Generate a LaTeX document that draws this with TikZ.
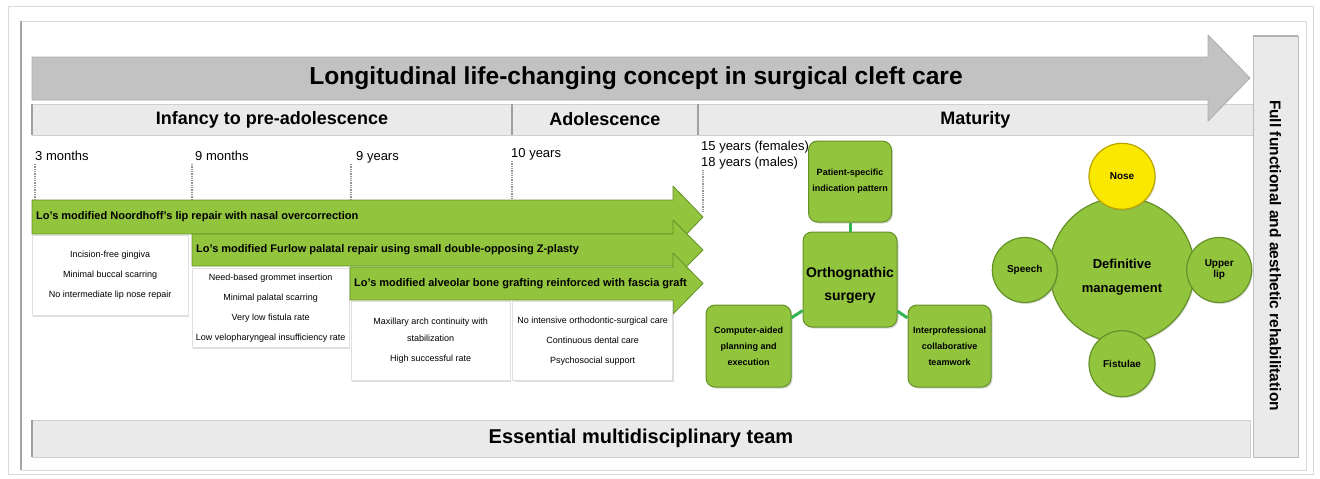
\documentclass[tikz,border=0pt]{standalone}
\usepackage{fontspec}
\setmainfont{Liberation Sans}
\usetikzlibrary{positioning, shadows, calc}

\definecolor{leaf}{RGB}{146,196,62}
\definecolor{leafdark}{RGB}{100,145,40}
\definecolor{linkgreen}{RGB}{50,180,80}
\definecolor{nosey}{RGB}{250,232,0}
\definecolor{nosedark}{RGB}{185,165,0}
\definecolor{bar}{RGB}{234,234,234}
\definecolor{barline}{RGB}{160,160,160}
\definecolor{bigarrow}{RGB}{194,194,194}

\begin{document}
\begin{tikzpicture}[x=1pt, y=-1pt, line join=round,
  phase/.style   ={fill=bar, draw=barline!50, inner sep=0pt, minimum height=31pt, font=\fontsize{18}{20}\selectfont\bfseries},
  sep/.style     ={draw=barline, line width=2pt},
  bigarr/.style  ={fill=bigarrow, draw=gray!65, line width=0.8pt},
  headline/.style={font=\fontsize{24.6}{28}\selectfont\bfseries},
  sidebar/.style ={fill=bar, draw=barline!70, inner sep=0pt, minimum width=421pt, minimum height=45pt, rotate=-90, font=\fontsize{15.5}{18}\selectfont\bfseries},
  teambar/.style ={fill=bar, draw=barline!50, inner sep=0pt, minimum width=1218pt, minimum height=37pt, font=\fontsize{20}{24}\selectfont\bfseries},
  age/.style     ={anchor=south west, inner sep=0pt, text depth=3pt, font=\fontsize{13}{16}\selectfont},
  agetick/.style ={densely dotted, draw=gray!85, line width=1.3pt},
  garrow/.style  ={fill=leaf, draw=leafdark, line width=0.8pt},
  armtext/.style ={anchor=west, inner xsep=4pt, inner ysep=0pt, minimum height=34pt, font=\fontsize{11}{13}\selectfont\bfseries},
  note/.style    ={fill=white, draw=gray!25, align=center, inner sep=2pt, font=\fontsize{9}{20}\selectfont,
                   drop shadow={opacity=0.25, shadow xshift=1pt, shadow yshift=-2pt}},
  leafbox/.style ={rounded corners=9pt, fill=leaf, draw=leafdark, line width=1pt, align=center, inner sep=2pt,
                   font=\fontsize{9}{16}\selectfont\bfseries, drop shadow={opacity=0.3, shadow xshift=1.5pt, shadow yshift=-1.5pt}},
  link/.style    ={draw=linkgreen, line width=3pt},
  disc/.style    ={circle, fill=leaf, draw=leafdark, line width=1.2pt, inner sep=0pt, align=center, minimum size=65pt,
                   font=\fontsize{10}{11}\selectfont\bfseries, drop shadow={opacity=0.25, shadow xshift=1pt, shadow yshift=-1.5pt}},
]
\useasboundingbox (0,0) rectangle (1320,479);

% ---------- frame ----------
\draw[gray!30, line width=1pt] (8,6) rectangle (1313,474);
\draw[gray!30] (21,21) rectangle (1306,470);
\draw[gray!70, line width=2pt] (21,21) -- (21,470);

% ---------- phases ----------
\node[phase, minimum width=480pt] (infancy) at (272,119.5) {Infancy to pre-adolescence};
\node[phase, minimum width=185pt, right=0pt of infancy] (adol) {Adolescence};
\node[phase, minimum width=555pt, right=0pt of adol] (maturity) {Maturity};
\foreach \p in {infancy,adol,maturity} \draw[sep] (\p.north west) -- (\p.south west);

% ---------- concept arrow ----------
\draw[bigarr] (32,57) -- (1208,57) -- (1208,35) -- (1250,78) -- (1208,121) -- (1208,100) -- (32,100) -- cycle;
\node[headline] (concept) at (636,78) {Longitudinal life-changing concept in surgical cleft care};

% ---------- side + bottom bars ----------
\node[sidebar] (rehab) at (1275.5,246.5) {\hspace*{18pt}Full functional and aesthetic rehabilitation};
\draw[gray!60, line width=1.5pt] (rehab.south west) -- (rehab.north west);
\node[teambar] (team) at (641,438.5) {Essential multidisciplinary team};
\draw[sep] (team.north west) -- (team.south west);

% ---------- ages ----------
\node[age] (m3)  at (35,164)  {3 months};
\node[age] (m9)  at (195,164) {9 months};
\node[age] (y9)  at (356,164) {9 years};
\node[age] (y10) at (511,161) {10 years};
\node[anchor=north west, inner sep=0pt, align=left, font=\fontsize{13}{16}\selectfont] (adult) at (701,141)
  {15 years (females)\\18 years (males)};

% ---------- surgical arrows ----------
\draw[garrow] (32,200) -- (673,200) -- (673,186) -- (703,217) -- (673,248) -- (673,234) -- (32,234) -- cycle;
\node[armtext] (lip) at (32,217) {Lo's modified Noordhoff's lip repair with nasal overcorrection};
\node[note, minimum width=156pt, minimum height=80pt, below right=1pt and 0pt of lip.south west] (lipnote)
  {Incision-free gingiva\\Minimal buccal scarring\\No intermediate lip nose repair};

\draw[garrow] (192,234) -- (673,234) -- (673,220) -- (703,250) -- (673,280) -- (673,266) -- (192,266) -- cycle;
\node[armtext, minimum height=32pt] (palate) at (192,250) {Lo's modified Furlow palatal repair using small double-opposing Z-plasty};
\node[note, minimum width=157pt, minimum height=79pt, below right=2pt and 0pt of palate.south west] (palatenote)
  {Need-based grommet insertion\\Minimal palatal scarring\\Very low fistula rate\\Low velopharyngeal insufficiency rate};

\draw[garrow] (350,267) -- (673,267) -- (673,253) -- (703,283.5) -- (673,314) -- (673,300) -- (350,300) -- cycle;
\node[armtext, minimum height=33pt] (bone) at (350,283.5) {Lo's modified alveolar bone grafting reinforced with fascia graft};
\node[note, minimum width=159pt, minimum height=79pt, below right=1pt and 1pt of bone.south west] (bonenote)
  {Maxillary arch continuity with\\[-3pt]stabilization\\High successful rate};
\node[note, minimum width=160pt, minimum height=79pt, right=2pt of bonenote] (adultnote)
  {No intensive orthodontic-surgical care\\Continuous dental care\\Psychosocial support};

% dotted age markers
\draw[agetick] (m3.south west) -- (m3.south west |- lip.north);
\draw[agetick] ($(m9.south west)+(-3,0)$) -- ($(m9.south west |- lip.north)+(-3,0)$);
\draw[agetick] ($(y9.south west)+(-5,0)$) -- ($(y9.south west |- lip.north)+(-5,0)$);
\draw[agetick] ($(y10.south west)+(1,0)$) -- ($(y10.south west |- lip.north)+(1,0)$);
\draw[agetick] ($(adult.south west)+(2,0)$) -- ($(adult.south west |- lip.east)+(2,-4)$);

% ---------- orthognathic cluster ----------
\node[leafbox, minimum width=94pt, minimum height=95pt, font=\fontsize{14}{23}\selectfont\bfseries] (ortho) at (850,279.5) {\rule{0pt}{21pt}Orthognathic\\surgery};
\node[leafbox, minimum width=83pt, minimum height=81pt, above=9pt of ortho] (indication) {Patient-specific\\indication pattern};
\node[leafbox, minimum width=85pt, minimum height=82pt, left=11pt of ortho, yshift=-66.5pt] (planning) {Computer-aided\\planning and\\execution};
\node[leafbox, minimum width=83pt, minimum height=82pt, right=10pt of ortho, yshift=-66.5pt] (teamwork) {Interprofessional\\collaborative\\teamwork};
\draw[link] (indication) -- (ortho);
\draw[link] (planning) -- (ortho);
\draw[link] (teamwork) -- (ortho);

% ---------- definitive management ----------
\node[disc, minimum size=145pt, font=\fontsize{13}{24}\selectfont\bfseries] (definitive) at (1122,270) {\rule{0pt}{24pt}Definitive\\management};
\node[disc, fill=nosey, draw=nosedark, minimum size=66pt, above=-13pt of definitive] (nose) {Nose};
\node[disc, left=-9pt of definitive] (speech) {Speech};
\node[disc, right=-9pt of definitive] (upperlip) {Upper\\lip};
\node[disc, minimum size=66pt, below=-13pt of definitive] (fistulae) {Fistulae};

\end{tikzpicture}
\end{document}
